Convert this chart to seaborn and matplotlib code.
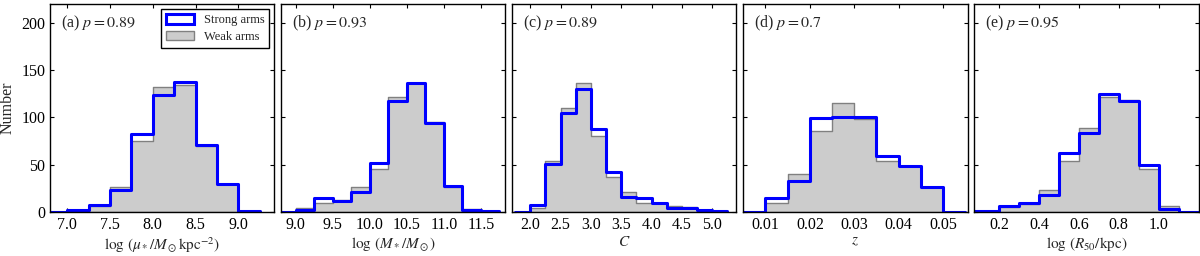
import numpy as np
import matplotlib
matplotlib.use('Agg')
import matplotlib.pyplot as plt
import matplotlib.patches as mpatches
import seaborn as sns

# bin edges and counts per panel
edges_a = [6.75, 7.0, 7.25, 7.5, 7.75, 8.0, 8.25, 8.5, 8.75, 9.0, 9.25]
strong_a = [0, 2, 7, 23, 83, 124, 138, 71, 30, 1]
weak_a = [0, 1, 6, 26, 75, 132, 134, 70, 30, 1]

edges_b = [8.75, 9.0, 9.25, 9.5, 9.75, 10.0, 10.25, 10.5, 10.75, 11.0, 11.25, 11.5, 11.75]
strong_b = [0, 2, 15, 12, 21, 52, 117, 137, 94, 28, 2, 1]
weak_b = [0, 4, 9, 13, 26, 45, 122, 137, 95, 26, 3, 0]

edges_c = [1.75, 2.0, 2.25, 2.5, 2.75, 3.0, 3.25, 3.5, 3.75, 4.0, 4.25, 4.5, 4.75, 5.0, 5.25]
strong_c = [0, 7, 51, 105, 130, 88, 42, 16, 15, 10, 4, 4, 2, 1]
weak_c = [0, 4, 54, 110, 136, 80, 37, 21, 10, 10, 6, 5, 2, 1]

edges_d = [0.005, 0.01, 0.015, 0.02, 0.025, 0.03, 0.035, 0.04, 0.045, 0.05, 0.055]
strong_d = [0, 15, 33, 99, 100, 101, 59, 49, 26, 0]
weak_d = [0, 10, 40, 86, 115, 98, 54, 49, 26, 0]

edges_e = [0.0, 0.1, 0.2, 0.3, 0.4, 0.5, 0.6, 0.7, 0.8, 0.9, 1.0, 1.1, 1.2]
strong_e = [1, 1, 6, 10, 18, 62, 84, 125, 117, 50, 3, 0]
weak_e = [0, 0, 5, 8, 23, 54, 89, 122, 119, 46, 6, 0]

tags = ['(a) $p=0.89$', '(b) $p=0.93$', '(c) $p=0.89$', '(d) $p=0.7$', '(e) $p=0.95$']
xlabels = [r'$\log\,(\mu_*/M_\odot\mathrm{kpc}^{-2})$', r'$\log\,(M_*/M_\odot)$',
           r'$C$', r'$z$', r'$\log\,(R_{50}/\mathrm{kpc})$']
xlims = [(6.8, 9.42), (8.8, 11.83), (1.7, 5.4), (0.005, 0.0555), (0.075, 1.2)]
xticks = [[7.0, 7.5, 8.0, 8.5, 9.0], [9.0, 9.5, 10.0, 10.5, 11.0, 11.5],
          [2.0, 2.5, 3.0, 3.5, 4.0, 4.5, 5.0], [0.01, 0.02, 0.03, 0.04, 0.05],
          [0.2, 0.4, 0.6, 0.8, 1.0]]
ticklab_fmt = ['%.1f', '%.1f', '%.1f', '%.2f', '%.1f']

panels = [(edges_a, strong_a, weak_a), (edges_b, strong_b, weak_b),
          (edges_c, strong_c, weak_c), (edges_d, strong_d, weak_d),
          (edges_e, strong_e, weak_e)]

sns.set_style('ticks')
plt.rcParams['font.family'] = ['Liberation Serif', 'DejaVu Serif']
plt.rcParams['mathtext.fontset'] = 'stix'
plt.rcParams['axes.linewidth'] = 1.0

fig, axes = plt.subplots(1, 5, figsize=(12, 2.56), dpi=100, sharey=True)
fig.subplots_adjust(left=0.0417, right=0.9988, bottom=0.172, top=0.984, wspace=0.03)

for i, ax in enumerate(axes):
    edges, strong, weak = panels[i]
    e = np.array(edges)
    centers = (e[:-1] + e[1:]) / 2
    # weak arms: filled grey
    sns.histplot(x=centers, weights=np.array(weak, dtype=float), bins=list(edges),
                 element='step', fill=True, facecolor='#cccccc', edgecolor='#808080',
                 linewidth=1.0, alpha=1, ax=ax)
    # strong arms: blue outline
    sns.histplot(x=centers, weights=np.array(strong, dtype=float), bins=list(edges),
                 element='step', fill=False, color='#0000ff', linewidth=2.2, ax=ax)
    ax.set_xlim(*xlims[i])
    ax.set_ylim(0, 220)
    ax.set_xticks(xticks[i])
    ax.set_xticklabels([ticklab_fmt[i] % t for t in xticks[i]])
    ax.set_yticks([0, 50, 100, 150, 200])
    ax.tick_params(direction='in', top=True, right=True, length=3, width=0.8,
                   labelsize=11.5, pad=3.5, colors='black')
    for s in ax.spines.values():
        s.set_color('black')
        s.set_zorder(3)
    ax.set_xlabel(xlabels[i], fontsize=11, labelpad=1.5)
    ax.set_ylabel('')
    ax.text(0.05, 0.955, tags[i], transform=ax.transAxes, fontsize=11.5,
            va='top', ha='left')

axes[0].set_ylabel('Number', fontsize=11.5, labelpad=4)

handles = [mpatches.Patch(facecolor='white', edgecolor='#0000ff', linewidth=2.2,
                          label='Strong arms'),
           mpatches.Patch(facecolor='#cccccc', edgecolor='#808080', linewidth=1.0,
                          label='Weak arms')]
leg = axes[0].legend(handles=handles, loc='upper right', fontsize=9, fancybox=False,
                     framealpha=1, edgecolor='black', borderaxespad=0.4,
                     handlelength=2.2, handleheight=0.8, borderpad=0.4,
                     labelspacing=0.35)
leg.get_frame().set_linewidth(1.0)

fig.savefig('out.png', dpi=100)
